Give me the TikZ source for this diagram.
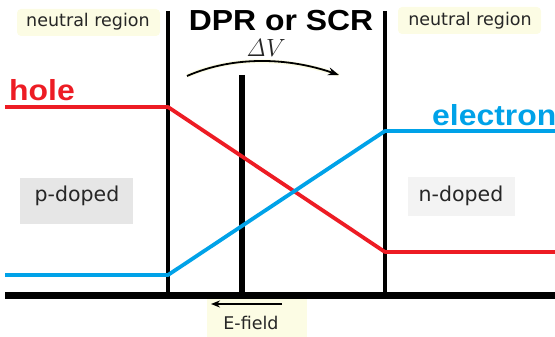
\documentclass[tikz,border=0pt]{standalone}
\usepackage[no-math]{fontspec}
\newfontfamily\lblfont{DejaVu Sans}
\newfontfamily\headfont{Liberation Sans}
\usetikzlibrary{arrows.meta}
\definecolor{holered}{HTML}{ED1C24}
\definecolor{elecblue}{HTML}{00A2E8}
\definecolor{paleyellow}{HTML}{FCFCE4}
\definecolor{boxgray}{HTML}{E6E6E6}
\definecolor{boxgraylight}{HTML}{F3F3F3}
\tikzset{
  wall/.style={line width=3.5pt},
  band/.style={line width=3.8pt, line join=round},
  small/.style={font=\lblfont\fontsize{17.5}{20}\selectfont, inner sep=0pt, text=black!85},
  dopedtext/.style={font=\lblfont\fontsize{20.5}{22}\selectfont, inner sep=0pt, text=black!85},
  carrier/.style={font=\headfont\bfseries\fontsize{29}{30}\selectfont, inner sep=0pt, anchor=base west, xscale=1.1},
  heading/.style={font=\headfont\bfseries\fontsize{29}{30}\selectfont, inner sep=0pt, xscale=1.1},
}
\begin{document}
\begin{tikzpicture}[x=1pt,y=-1pt]
\useasboundingbox (0,0) rectangle (555,337);

% label backgrounds
\fill[paleyellow, rounded corners=4pt] (17,9) rectangle (160,36);
\fill[paleyellow, rounded corners=4pt] (398,7) rectangle (541,34);
\fill[boxgray] (20,178) rectangle (133,224);
\fill[boxgraylight] (408,177) rectangle (515,216);
\fill[paleyellow] (207,299) rectangle (307,337);

% region boundaries and axis
\coordinate (lt) at (168,11);  \coordinate (lb) at (168,295);
\coordinate (rt) at (385,11);  \coordinate (rb) at (385,295);
\coordinate (mt) at (242,75);  \coordinate (mb) at (242,295);
\coordinate (ax0) at (5,295);  \coordinate (ax1) at (555,295);
\draw[wall] (lt) -- (lb);
\draw[wall] (rt) -- (rb);
\draw[line width=6.5pt] (mt) -- (mb);
\draw[line width=7pt] (ax0) -- (ax1);

% hole band
\coordinate (h0) at (5,107);   \coordinate (h1) at (168,107);
\coordinate (h2) at (385,252); \coordinate (h3) at (555,252);
\draw[band, holered] (h0) -- (h1) -- (h2) -- (h3);

% electron band
\coordinate (e0) at (5,275);   \coordinate (e1) at (168,275);
\coordinate (e2) at (385,131); \coordinate (e3) at (555,131);
\draw[band, elecblue] (e0) -- (e1) -- (e2) -- (e3);

% labels
\node[small] (nl) at (88,22) {neutral region};
\node[small] (nr) at (470,21) {neutral region};
\node[heading] (title) at (281,21) {DPR or SCR};
\node[carrier, text=holered] (hole) at (9,101) {hole};
\node[carrier, text=elecblue] (electron) at (432,125) {electron};
\node[dopedtext] (pd) at (77,196) {p-doped};
\node[dopedtext] (nd) at (461,196) {n-doped};
\node[font=\fontsize{23}{25}\selectfont, inner sep=0pt, text=black!85] (dv) at (266,48) {$\mathit{\Delta}V$};
\node[small] (ef) at (251,323) {E-field};

% potential step arrow
\coordinate (a0) at (187,76);
\coordinate (a1) at (339,75);
\draw[paleyellow, line width=4pt] (a0) .. controls (235,55) and (290,58) .. (a1);
\draw[line width=1.8pt, -{Stealth[length=11pt,width=8pt]}] (a0) .. controls (235,55) and (290,58) .. (a1);

% field direction
\coordinate (f0) at (282,304);
\coordinate (f1) at (211,304);
\draw[line width=1.6pt, -{Stealth[length=9pt,width=7pt]}] (f0) -- (f1);
\end{tikzpicture}
\end{document}
